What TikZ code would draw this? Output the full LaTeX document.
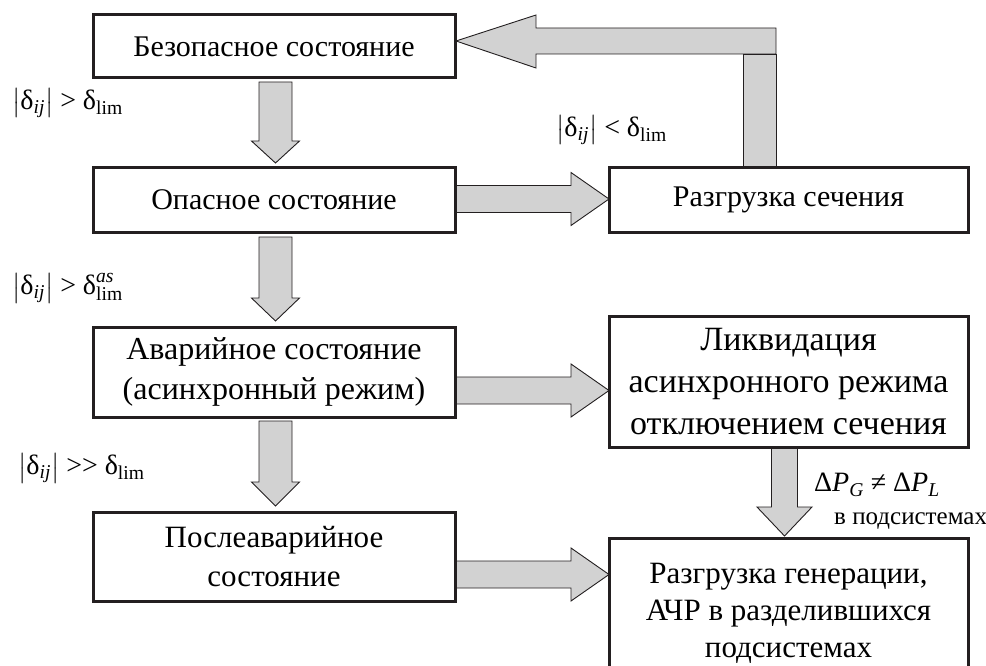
\documentclass[tikz,border=0pt]{standalone}
\usepackage{fontspec}
\setmainfont{Liberation Serif}
\usepackage{amsmath}
\definecolor{arrowgray}{RGB}{210,210,210}
\definecolor{inkdark}{RGB}{35,31,32}
\newcommand{\dlt}{\text{δ}}
\newcommand{\absd}{\bigl|\dlt_{\textit{ij}}\bigr|}
\newcommand{\blkdown}[6]{% xc, ytop, ytip, shaft half, head half, head length
  \filldraw[blockarrow] ({#1-#4},#2) -- ({#1+#4},#2) -- ({#1+#4},{#3-#6}) -- ({#1+#5},{#3-#6}) -- (#1,#3) -- ({#1-#5},{#3-#6}) -- ({#1-#4},{#3-#6}) -- cycle;}
\newcommand{\blkright}[6]{% x1, x2(tip), yc, shaft half, head half, head length
  \filldraw[blockarrow] (#1,{#3-#4}) -- ({#2-#6},{#3-#4}) -- ({#2-#6},{#3-#5}) -- (#2,#3) -- ({#2-#6},{#3+#5}) -- ({#2-#6},{#3+#4}) -- (#1,{#3+#4}) -- cycle;}
\begin{document}
\begin{tikzpicture}[x=1pt,y=-1pt,
  box/.style={draw=inkdark, line width=3pt, fill=white, align=center, inner sep=0pt},
  blockarrow/.style={draw=inkdark, line width=0.9pt, fill=arrowgray, line join=miter},
  lbl/.style={inner sep=0pt, font=\fontsize{28}{32}\selectfont}]
\useasboundingbox (0,0) rectangle (986,666);
\clip (0,0) rectangle (986,666);
% arrows (drawn below boxes)
\blkdown{275.5}{82}{163}{16.5}{24}{22}
\blkdown{275.5}{237}{321}{16.5}{24}{23}
\blkdown{275.5}{421}{506}{16.5}{24}{24}
\blkdown{784.5}{447}{536}{13}{27.5}{29}
\blkright{455}{609}{199}{13.5}{26.5}{38}
\blkright{455}{609}{390.5}{13.5}{26.5}{38}
\blkright{455}{609}{574.5}{13.5}{26.5}{38}
% feedback arrow
\filldraw[blockarrow] (743,54) rectangle (776,168);
\filldraw[blockarrow] (776,28) -- (536,28) -- (536,15) -- (456,41) -- (536,68) -- (536,54) -- (776,54) -- cycle;
% boxes
\node[box, minimum width=362pt, minimum height=63pt, font=\fontsize{30}{40}\selectfont] (safe) at (274,46.5) {Безопасное состояние};
\node[box, minimum width=362pt, minimum height=64pt, font=\fontsize{30}{40}\selectfont] (danger) at (274,200) {Опасное состояние};
\node[box, minimum width=362pt, minimum height=90pt, font=\fontsize{32}{40}\selectfont] (emerg) at (274,372) {Аварийное состояние\\(асинхронный режим)};
\node[box, minimum width=362pt, minimum height=89pt, font=\fontsize{31}{39}\selectfont] (post) at (274,556.5) {Послеаварийное\\состояние};
\node[box, minimum width=359pt, minimum height=64pt, font=\fontsize{30}{40}\selectfont] (unload) at (788.5,200) {Разгрузка сечения};
\node[box, minimum width=359pt, minimum height=131pt, font=\fontsize{34}{42}\selectfont] (liq) at (788.5,381.5) {Ликвидация\\асинхронного режима\\отключением сечения};
\draw[box] (609,538) rectangle (968,720);
\node[align=center, inner sep=0pt, font=\fontsize{31}{37}\selectfont] (gen) at (788.5,613) {Разгрузка генерации,\\АЧР в разделившихся\\подсистемах};
% labels
\node[lbl, anchor=west] (c1) at (12,103) {$\absd\;\text{>}\;\dlt_{\text{lim}}$};
\node[lbl, anchor=west] (c2) at (12,288) {$\absd\;\text{>}\;\dlt^{\textit{as}}_{\text{lim}}$};
\node[lbl, anchor=west] (c3) at (18,468) {$\absd\;\text{>{}>}\;\dlt_{\text{lim}}$};
\node[lbl, anchor=west] (c4) at (556,130) {$\absd\;\text{<}\;\dlt_{\text{lim}}$};
\node[lbl, anchor=west, font=\fontsize{28}{30}\selectfont] (c5) at (814,485) {$\text{Δ}\textit{P}_{\textit{G}}\;\text{≠}\;\text{Δ}\textit{P}_{\textit{L}}$};
\node[lbl, anchor=west, font=\fontsize{25}{30}\selectfont] (c6) at (834,521) {в подсистемах};
\end{tikzpicture}
\end{document}
